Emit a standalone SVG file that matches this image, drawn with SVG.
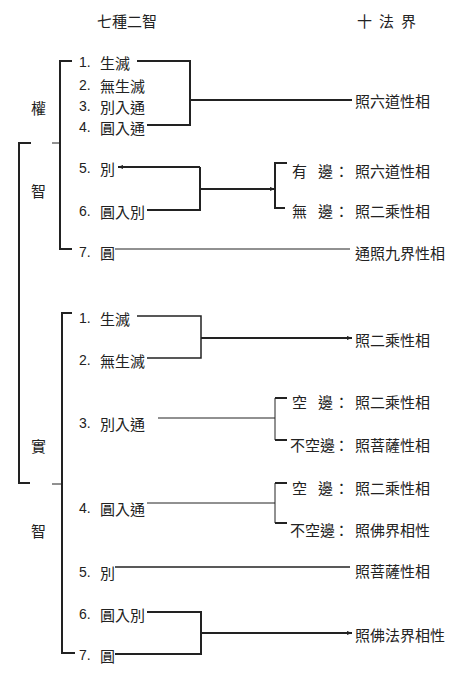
<svg xmlns="http://www.w3.org/2000/svg" width="471" height="675" viewBox="0 0 471 675">
<style>
text{font-family:"Noto Sans CJK TC","Noto Sans CJK SC",sans-serif;font-size:15px;fill:#222;dominant-baseline:central}
.n{font-family:"Liberation Sans",sans-serif;font-size:14px}
.c path{fill:none;stroke:#222;stroke-width:1.5}
.c .b{stroke-width:2}
.c .t{stroke-width:1}
</style>
<defs>
<marker id="ar" viewBox="0 0 6 6" refX="6" refY="3" markerWidth="5" markerHeight="5" orient="auto" markerUnits="userSpaceOnUse">
<path d="M0,0.5 L6,3 L0,5.5 z" fill="#222"/>
</marker>
</defs>
<rect width="471" height="675" fill="#fff"/>
<g class="c" id="connectors">
<path class="b" d="M31,143 H19 V483 H30"/>
<path class="t" d="M52,143 H60"/>
<path class="t" d="M52,484 H62"/>
<path class="b" d="M72,61 H60 V249 H72"/>
<path class="b" d="M137,61 H190 V125 H147"/>
<path class="b" d="M190,100 H352"/>
<path class="b" d="M200,167 H118" marker-end="url(#ar)"/>
<path class="b" d="M200,167 V210 H147"/>
<path class="b" d="M200,189 H275" marker-end="url(#ar)"/>
<path class="b" d="M287,163 H275 V208 H285"/>
<path class="t" d="M115,249 H350"/>
<path class="b" d="M72,313 H62 V653 H75"/>
<path d="M137,316 H201 V358 H147"/>
<path class="b" d="M201,338 H352" marker-end="url(#ar)"/>
<path class="t" d="M158,418 H275"/>
<path class="t" d="M275,398 V440"/>
<path class="b" d="M287,398 H275"/>
<path class="b" d="M287,440 H275"/>
<path class="t" d="M147,503 H275"/>
<path class="t" d="M275,483 V523"/>
<path class="b" d="M287,483 H275"/>
<path class="b" d="M287,523 H275"/>
<path d="M115,567 H350"/>
<path class="b" d="M147,612 H201 V654 H115"/>
<path class="b" d="M201,633 H352" marker-end="url(#ar)"/>
</g>
<g id="header-left"><text x="97" y="20">七種二智</text></g>
<g id="header-right"><text x="357 379 401" y="20">十法界</text></g>
<g id="quan"><text x="31" y="107">權</text></g>
<g id="zhi-1"><text x="31" y="190">智</text></g>
<g id="shi"><text x="31" y="445">實</text></g>
<g id="zhi-2"><text x="31" y="530">智</text></g>
<g id="q1"><text class="n" x="79" y="62">1.</text><text x="100" y="62">生滅</text></g>
<g id="q2"><text class="n" x="79" y="85">2.</text><text x="100" y="85">無生滅</text></g>
<g id="q3"><text class="n" x="79" y="106">3.</text><text x="100" y="106">別入通</text></g>
<g id="q4"><text class="n" x="79" y="127">4.</text><text x="100" y="127">圓入通</text></g>
<g id="q5"><text class="n" x="79" y="168">5.</text><text x="100" y="168">別</text></g>
<g id="q6"><text class="n" x="79" y="211">6.</text><text x="100" y="211">圓入別</text></g>
<g id="q7"><text class="n" x="79" y="252">7.</text><text x="100" y="252">圓</text></g>
<g id="r-q14"><text x="355" y="100">照六道性相</text></g>
<g id="r-q56a"><text x="292 318 334 355 370 385 400 415" y="170">有邊：照六道性相</text></g>
<g id="r-q56b"><text x="292 318 334 355 370 385 400 415" y="210">無邊：照二乘性相</text></g>
<g id="r-q7"><text x="355" y="252">通照九界性相</text></g>
<g id="s1"><text class="n" x="79" y="318">1.</text><text x="100" y="318">生滅</text></g>
<g id="s2"><text class="n" x="79" y="360">2.</text><text x="100" y="360">無生滅</text></g>
<g id="s3"><text class="n" x="79" y="423">3.</text><text x="100" y="423">別入通</text></g>
<g id="s4"><text class="n" x="79" y="508">4.</text><text x="100" y="508">圓入通</text></g>
<g id="s5"><text class="n" x="79" y="572">5.</text><text x="100" y="572">別</text></g>
<g id="s6"><text class="n" x="79" y="614">6.</text><text x="100" y="614">圓入別</text></g>
<g id="s7"><text class="n" x="79" y="655">7.</text><text x="100" y="655">圓</text></g>
<g id="r-s12"><text x="355" y="339">照二乘性相</text></g>
<g id="r-s3a"><text x="292 318 334 355 370 385 400 415" y="401">空邊：照二乘性相</text></g>
<g id="r-s3b"><text x="290 305 320 334 355 370 385 400 415" y="444">不空邊：照菩薩性相</text></g>
<g id="r-s4a"><text x="292 318 334 355 370 385 400 415" y="487">空邊：照二乘性相</text></g>
<g id="r-s4b"><text x="290 305 320 334 355 370 385 400 415" y="529">不空邊：照佛界相性</text></g>
<g id="r-s5"><text x="355" y="570">照菩薩性相</text></g>
<g id="r-s67"><text x="355" y="634">照佛法界相性</text></g>
</svg>
